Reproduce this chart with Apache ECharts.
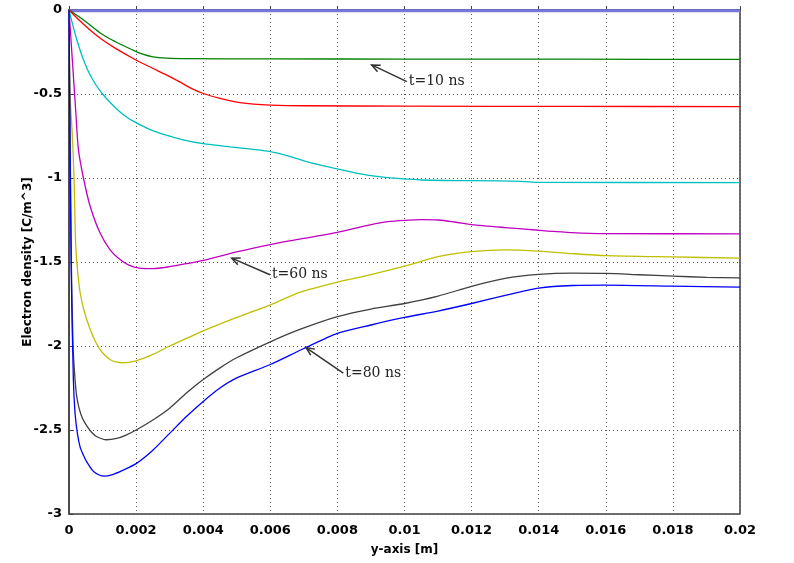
<!DOCTYPE html>
<html><head><meta charset="utf-8">
<script src="https://cdn.jsdelivr.net/npm/echarts@6/dist/echarts.min.js"></script>
<style>html,body{margin:0;padding:0;background:#fff}#c{width:794px;height:563px}</style>
</head><body><div id="c"></div>
<script>
// x ticks / y ticks
const xTicks = [0,0.002,0.004,0.006,0.008,0.01,0.012,0.014,0.016,0.018,0.02];
const yTicks = [-3,-2.5,-2,-1.5,-1,-0.5,0];

// series [x, y] values
const s_t0 = [[0,-0.004],[0.02,-0.004]];
const s_t10 = [[0,0],[0.0003,-0.04],[0.0006,-0.085],[0.00093,-0.137],[0.0013,-0.18],[0.0016,-0.21],[0.0019,-0.238],[0.0022,-0.263],[0.0025,-0.279],[0.0029,-0.287],[0.0035,-0.29],[0.006,-0.291],[0.01,-0.292],[0.015,-0.293],[0.02,-0.294]];
const s_t20 = [[0,0],[0.0003,-0.06],[0.0006,-0.115],[0.00093,-0.168],[0.0014,-0.23],[0.0019,-0.287],[0.0024,-0.338],[0.0029,-0.386],[0.0033,-0.428],[0.0036,-0.462],[0.004,-0.497],[0.0045,-0.526],[0.005,-0.548],[0.0055,-0.56],[0.006,-0.566],[0.007,-0.57],[0.01,-0.572],[0.015,-0.574],[0.02,-0.575]];
const s_t30 = [[0,0],[0.0001,-0.08],[0.0002,-0.155],[0.0003,-0.22],[0.0004,-0.28],[0.0005,-0.33],[0.0006,-0.375],[0.0008,-0.445],[0.001,-0.5],[0.0012,-0.545],[0.0014,-0.585],[0.0016,-0.62],[0.0019,-0.66],[0.0024,-0.71],[0.0029,-0.745],[0.0034,-0.773],[0.004,-0.796],[0.0048,-0.815],[0.0055,-0.83],[0.006,-0.843],[0.0065,-0.867],[0.007,-0.898],[0.0075,-0.924],[0.008,-0.946],[0.0085,-0.968],[0.009,-0.986],[0.0095,-0.998],[0.01,-1.005],[0.0105,-1.012],[0.012,-1.016],[0.0135,-1.02],[0.014,-1.026],[0.02,-1.027]];
const s_t60 = [[0,0],[0.0001,-0.3],[0.0002,-0.6],[0.00028,-0.83],[0.00043,-1.0],[0.00063,-1.168],[0.00092,-1.325],[0.00122,-1.426],[0.00152,-1.485],[0.0018,-1.52],[0.0021,-1.537],[0.0025,-1.54],[0.003,-1.528],[0.0035,-1.51],[0.004,-1.49],[0.005,-1.44],[0.006,-1.396],[0.007,-1.36],[0.008,-1.323],[0.0085,-1.30],[0.009,-1.277],[0.0095,-1.26],[0.01,-1.252],[0.0105,-1.248],[0.011,-1.25],[0.0115,-1.262],[0.012,-1.277],[0.013,-1.295],[0.014,-1.311],[0.015,-1.325],[0.016,-1.331],[0.02,-1.332]];
const s_t70 = [[0,0],[0.00003,-0.5],[0.0001,-0.75],[0.00015,-1.0],[0.0002,-1.4],[0.00026,-1.56],[0.00033,-1.68],[0.00045,-1.79],[0.00063,-1.9],[0.00078,-1.97],[0.00092,-2.02],[0.00107,-2.055],[0.00122,-2.08],[0.0014,-2.095],[0.0016,-2.1],[0.002,-2.088],[0.0025,-2.05],[0.003,-2.0],[0.0035,-1.955],[0.004,-1.91],[0.005,-1.83],[0.006,-1.755],[0.0069,-1.679],[0.008,-1.62],[0.009,-1.575],[0.01,-1.525],[0.011,-1.468],[0.012,-1.438],[0.013,-1.428],[0.014,-1.435],[0.015,-1.45],[0.016,-1.462],[0.018,-1.47],[0.02,-1.477]];
const s_t75 = [[0,0],[0.00003,-0.7],[0.00007,-1.5],[0.00012,-2.0],[0.00018,-2.2],[0.00023,-2.3],[0.0003,-2.37],[0.0004,-2.43],[0.00053,-2.475],[0.00068,-2.515],[0.00083,-2.54],[0.00112,-2.558],[0.00142,-2.55],[0.0017,-2.53],[0.002,-2.5],[0.0025,-2.44],[0.003,-2.37],[0.0035,-2.28],[0.004,-2.2],[0.0045,-2.13],[0.005,-2.07],[0.006,-1.975],[0.0069,-1.9],[0.008,-1.825],[0.009,-1.78],[0.01,-1.747],[0.011,-1.703],[0.012,-1.645],[0.013,-1.598],[0.014,-1.574],[0.015,-1.566],[0.016,-1.568],[0.017,-1.576],[0.018,-1.584],[0.019,-1.591],[0.02,-1.594]];
const s_t80 = [[0,0],[0.00003,-0.8],[0.00007,-1.6],[0.00013,-2.2],[0.00018,-2.4],[0.00025,-2.52],[0.00033,-2.6],[0.00043,-2.65],[0.00053,-2.69],[0.00072,-2.745],[0.0009,-2.768],[0.00105,-2.775],[0.0013,-2.765],[0.0016,-2.74],[0.002,-2.70],[0.0025,-2.62],[0.003,-2.52],[0.0035,-2.42],[0.004,-2.33],[0.0045,-2.25],[0.005,-2.19],[0.006,-2.11],[0.007,-2.015],[0.008,-1.925],[0.009,-1.875],[0.01,-1.83],[0.011,-1.792],[0.012,-1.747],[0.013,-1.699],[0.014,-1.656],[0.015,-1.64],[0.016,-1.638],[0.018,-1.644],[0.02,-1.65]];

// annotations: label, tail (x,y), head (x,y)
const annLabels = ['t=10 ns','t=60 ns','t=80 ns'];
const annTail = [[0.01007,-0.4265],[0.00599,-1.576],[0.008176,-2.161]];
const annHead = [[0.009022,-0.327],[0.00485,-1.477],[0.007064,-2.009]];

const chart = echarts.init(document.getElementById('c'), null, {renderer:'canvas'});
const lw = 1.3;
function line(data, color, w){ return {type:'line', data, showSymbol:false, symbol:'none', smooth:0.25, lineStyle:{color, width:w||lw}, itemStyle:{color}, z:3, animation:false}; }
const axisFont = {fontFamily:'DejaVu Sans', fontWeight:'bold', fontSize:13, color:'#000'};

chart.setOption({
  animation:false,
  grid:{left:69, right:54, top:10, bottom:49, show:true, borderColor:'#404040', borderWidth:1.5, containLabel:false},
  xAxis:{type:'value', min:0, max:0.02, interval:0.002,
    name:'y-axis [m]', nameLocation:'middle', nameGap:30, nameMoveOverlap:false, nameTextStyle:Object.assign({}, axisFont, {fontSize:12}),
    axisLine:{show:true, lineStyle:{color:'#404040', width:1.5}},
    axisTick:{show:true, inside:true, length:4, lineStyle:{color:'#404040'}},
    axisLabel:Object.assign({}, axisFont, {margin:10, formatter:v=>String(parseFloat(v.toFixed(4)))}),
    splitLine:{show:true, lineStyle:{color:'#555', width:1, type:[1,3]}}},
  yAxis:{type:'value', min:-3, max:0, interval:0.5,
    name:'Electron density [C/m^3]', nameLocation:'middle', nameGap:35, nameMoveOverlap:false, nameRotate:90, nameTextStyle:Object.assign({}, axisFont, {fontSize:12}),
    axisLine:{show:true, lineStyle:{color:'#404040', width:1.5}},
    axisTick:{show:true, inside:true, length:4, lineStyle:{color:'#404040'}},
    axisLabel:Object.assign({}, axisFont, {margin:7, formatter:v=>String(parseFloat(v.toFixed(2)))}),
    splitLine:{show:true, lineStyle:{color:'#555', width:1, type:[1,3]}}},
  series:[
    line(s_t0, '#7777e0', 3),
    line(s_t10, '#008000'),
    line(s_t20, '#ff0000'),
    line(s_t30, '#00bfbf'),
    line(s_t60, '#bf00bf'),
    line(s_t70, '#bfbf00'),
    line(s_t75, '#404040'),
    line(s_t80, '#0000ff'),
    {type:'custom', z:5, animation:false, clip:false,
     data: annLabels.map((l,i)=>[annTail[i][0],annTail[i][1],annHead[i][0],annHead[i][1]]),
     renderItem:function(params, api){
       const t = api.coord([api.value(0), api.value(1)]);
       const h = api.coord([api.value(2), api.value(3)]);
       const ang = Math.atan2(t[1]-h[1], t[0]-h[0]);
       const L = 9, a = 0.42;
       const p1 = [h[0]+L*Math.cos(ang+a), h[1]+L*Math.sin(ang+a)];
       const p2 = [h[0]+L*Math.cos(ang-a), h[1]+L*Math.sin(ang-a)];
       return {type:'group', children:[
         {type:'line', shape:{x1:t[0],y1:t[1],x2:h[0],y2:h[1]}, style:{stroke:'#333', lineWidth:1.5}},
         {type:'polyline', shape:{points:[p1,h,p2]}, style:{stroke:'#333', lineWidth:1.5, fill:null}},
         {type:'text', style:{text:annLabels[params.dataIndex], x:t[0]+2, y:t[1], verticalAlign:'middle', align:'left', fill:'#222', font:'14px "DejaVu Serif"'}}
       ]};
     }}
  ]
});
</script></body></html>
